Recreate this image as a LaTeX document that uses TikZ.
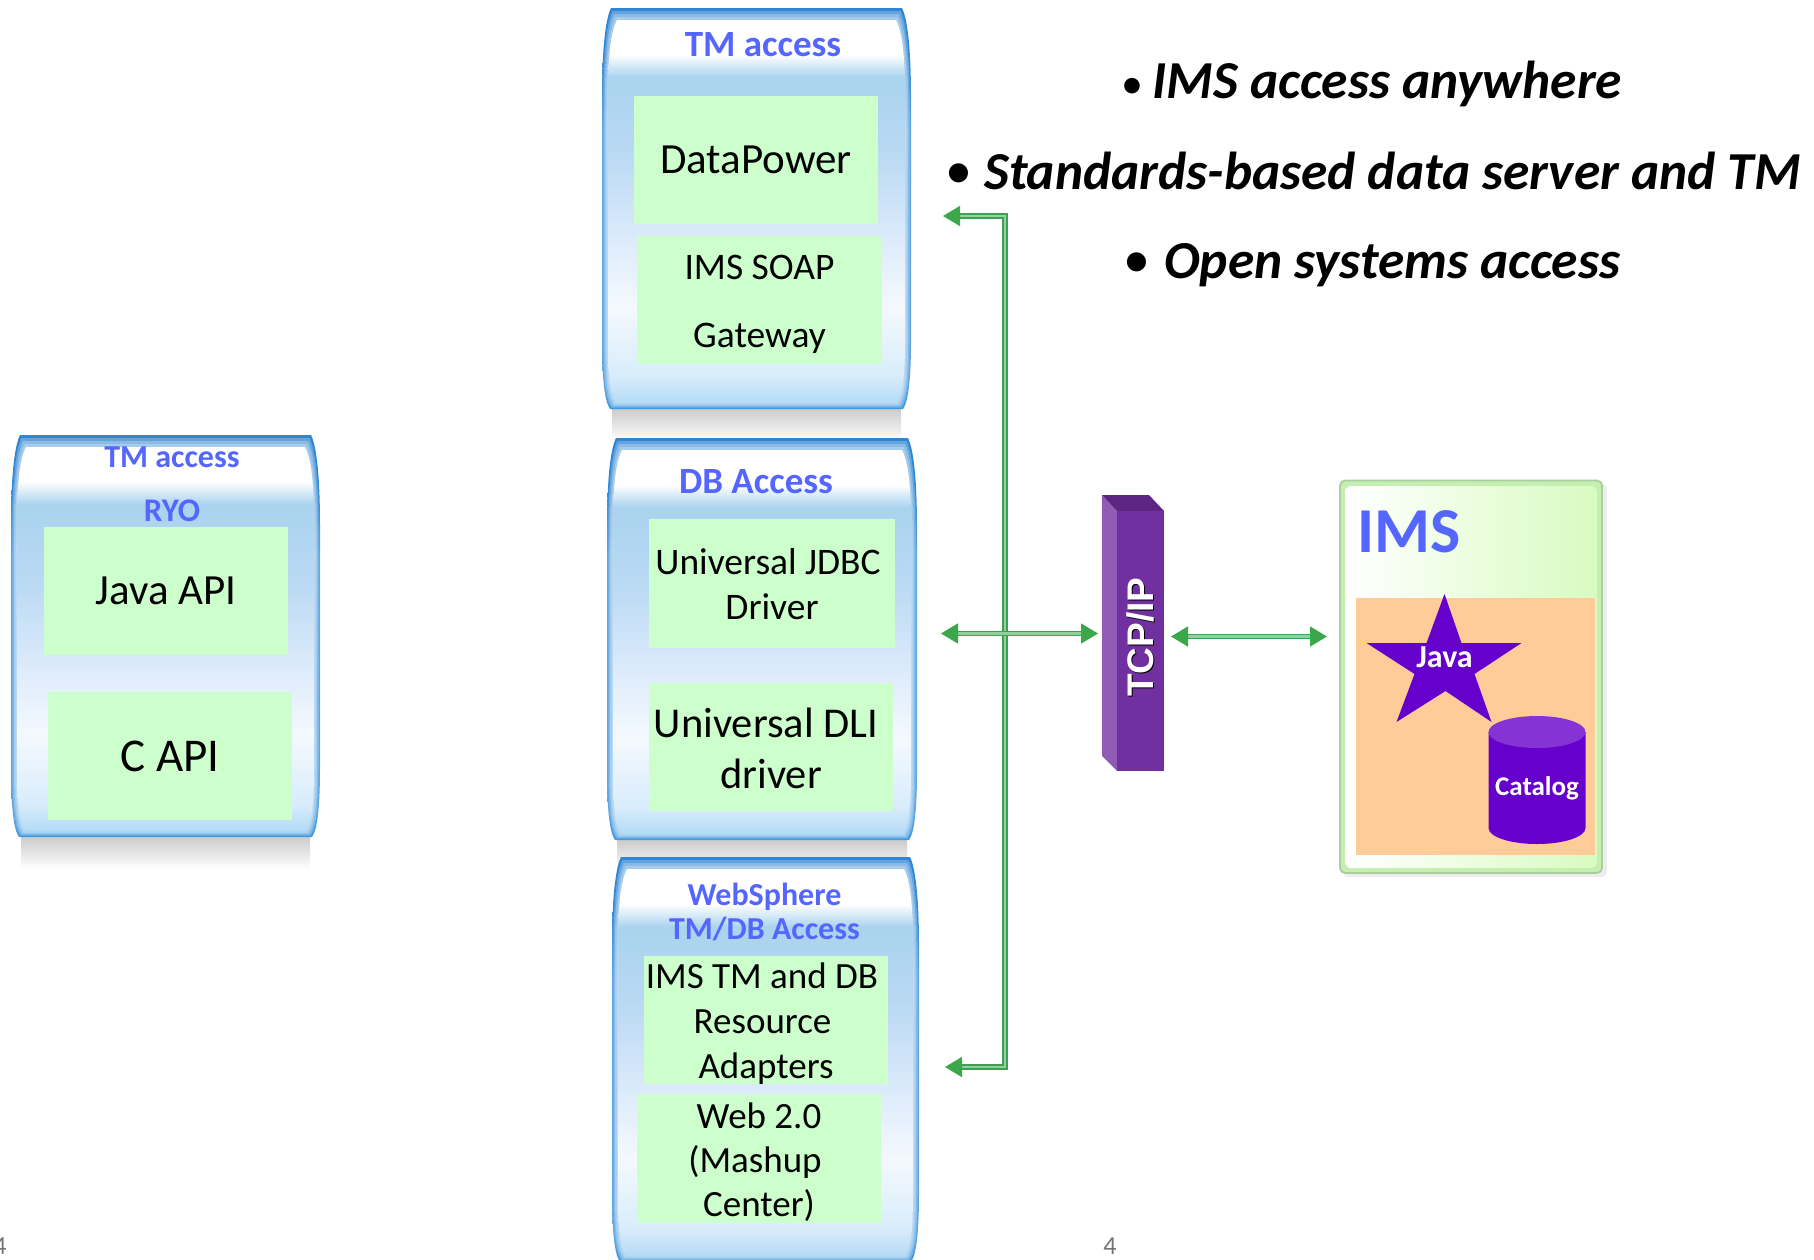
\documentclass[tikz,border=0pt]{standalone}
\usepackage{fontspec}
\setmainfont{Carlito}
\newfontfamily\arialfont{Liberation Sans}
\usetikzlibrary{arrows.meta}
\definecolor{glassA}{HTML}{FFFFFF}
\definecolor{glassB}{HTML}{A9D3EE}
\definecolor{glassC}{HTML}{BAD9F3}
\definecolor{glassD}{HTML}{E0EDFC}
\definecolor{glassE}{HTML}{F4F9FE}
\definecolor{glassF}{HTML}{D8ECFB}
\definecolor{glassG}{HTML}{B4DBF6}
\definecolor{edgeA}{HTML}{2F86D2}
\definecolor{edgeB}{HTML}{5FA6E2}
\definecolor{edgeC}{HTML}{3F98DE}
\definecolor{headblue}{HTML}{5566FF}
\definecolor{leaf}{HTML}{CCFFCC}
\definecolor{peach}{HTML}{FFCC99}
\definecolor{royal}{HTML}{6600CC}
\definecolor{royaltop}{HTML}{8533D4}
\definecolor{pipeout}{HTML}{3F9F55}
\definecolor{pipein}{HTML}{8FD29C}
\definecolor{tip}{HTML}{3AA84A}
\definecolor{imsedge}{HTML}{A9CFA0}
\definecolor{imsglow}{HTML}{C4EFB0}
\definecolor{imsfill}{HTML}{D8FBC0}
\pgfdeclareverticalshading{glass}{100bp}{
  color(0bp)=(glassG); color(25bp)=(glassG); color(28.5bp)=(glassF); color(37.5bp)=(glassE); color(45bp)=(glassD);
  color(57.5bp)=(glassC); color(67.5bp)=(glassB); color(70.5bp)=(glassA); color(100bp)=(glassA)}
\pgfdeclareverticalshading{glassedge}{100bp}{
  color(0bp)=(edgeC); color(25bp)=(edgeC); color(28bp)=(edgeB); color(60bp)=(edgeB); color(70bp)=(edgeA); color(100bp)=(edgeA)}
\newcommand{\glasspath}[5]{%
  ({#1+9+#5},{#2+#5*2}) -- ({#3-9-#5},{#2+#5*2})
  .. controls ({#3-3-#5},{#2+12+#5*2}) and ({#3-#5},{#2+45}) .. ({#3-#5},{#2+90})
  -- ({#3-#5},{#4-70})
  .. controls ({#3-#5},{#4-35}) and ({#3-2-#5},{#4-8-#5}) .. ({#3-8-#5},{#4-#5})
  -- ({#1+8+#5},{#4-#5})
  .. controls ({#1+2+#5},{#4-8-#5}) and ({#1+#5},{#4-35}) .. ({#1+#5},{#4-70})
  -- ({#1+#5},{#2+90})
  .. controls ({#1+#5},{#2+45}) and ({#1+3+#5},{#2+12+#5*2}) .. cycle}
\newcommand{\glassbox}[4]{%
  \shade[top color=black!20,bottom color=white] ({#1+10},#4) rectangle ({#3-10},{#4+32});
  \shade[shading=glassedge] \glasspath{#1}{#2}{#3}{#4}{0};
  \fill[white,opacity=.25] \glasspath{#1}{#2}{#3}{#4}{1.5};
  \fill[white,opacity=.25] \glasspath{#1}{#2}{#3}{#4}{3};
  \fill[white,opacity=.25] \glasspath{#1}{#2}{#3}{#4}{4.5};
  \shade[shading=glass] \glasspath{#1}{#2}{#3}{#4}{6};
}
\tikzset{
  sz/.style 2 args={font=\fontsize{#1}{#2}\selectfont},
  greenbox/.style={fill=leaf,inner sep=0pt,align=center,text=black},
  boxtext/.style={inner sep=0pt,align=center,text=black},
  header/.style={text=headblue,align=center,inner sep=0pt},
  pipe/.style={draw=pipeout,line width=1.6pt,double=pipein,double distance=2.6pt,
    {Triangle[length=17pt,width=20pt,color=tip]}-{Triangle[length=17pt,width=20pt,color=tip]}},
  bullettext/.style={inner sep=0pt,anchor=west,font=\fontsize{53.4}{60}\selectfont\bfseries\itshape},
  bulletdot/.style={inner sep=0pt},
  pagenum/.style={text=black!55,inner sep=0pt,font=\fontsize{26}{30}\selectfont},
  whitelabel/.style={text=white,inner sep=0pt},
}
\begin{document}
\begin{tikzpicture}[x=1pt,y=-1pt]
\useasboundingbox (0,0) rectangle (1814,1259);
\clip (0,0) rectangle (1814,1259);
% left box
\glassbox{11}{435}{320}{837}
\node[header,font=\fontsize{32}{36}\selectfont\bfseries] (lefttm) at (172,457.5) {TM access};
\node[header,font=\fontsize{33}{36}\selectfont\bfseries] (ryo) at (172,510.5) {RYO};
\node[greenbox,minimum width=244,minimum height=128,sz={43}{46}] (javaapi) at (166,591) {Java API};
\node[greenbox,minimum width=244,minimum height=128,sz={47}{50}] (capi) at (170,756) {C API};
% TM box
\glassbox{602}{8}{911}{409}
\node[header,font=\fontsize{37}{40}\selectfont\bfseries] (toptm) at (763,45) {TM access};
\node[greenbox,minimum width=244,minimum height=128,sz={43}{46}] (datapower) at (756,159.5) {DataPower};
\node[greenbox,minimum width=245,minimum height=128] (soap) at (759.5,300) {};
\node[boxtext,sz={37.5}{68}] (soaptext) at (759.5,304.5) {IMS SOAP\\Gateway};
% DB box
\glassbox{607}{438}{917}{840}
\node[header,font=\fontsize{37}{40}\selectfont\bfseries] (dbaccess) at (756,482) {DB Access};
\node[greenbox,minimum width=246,minimum height=129] (jdbc) at (772,583) {};
\node[boxtext,sz={37.5}{45}] (jdbctext) at (772,584) {Universal JDBC\hspace*{8pt}\\Driver};
\node[greenbox,minimum width=244,minimum height=128] (dli) at (770.5,747) {};
\node[boxtext,sz={42.5}{51}] (dlitext) at (771,748) {Universal DLI\hspace*{10pt}\\driver};
% WebSphere box
\glassbox{612}{857}{919}{1262}
\node[header,font=\fontsize{32}{34}\selectfont\bfseries] (websphere) at (764.5,912) {WebSphere\\TM/DB Access};
\node[greenbox,minimum width=244,minimum height=128] (adapters) at (766,1020) {};
\node[boxtext,sz={37}{45}] (adapterstext) at (766,1024) {IMS TM and DB\hspace*{8pt}\\Resource\kern7pt\\Adapters};
\node[greenbox,minimum width=244,minimum height=129] (webtwo) at (759,1158.5) {};
\node[boxtext,sz={37}{44}] (webtext) at (759,1162.5) {Web 2.0\\(Mashup\kern8pt\\Center)};
% connectors
\coordinate (tipa) at (943,216);
\coordinate (bustop) at (1005,216);
\coordinate (busbot) at (1005,1067);
\coordinate (tipc) at (945,1067);
\coordinate (midl) at (941,633.5);
\coordinate (midr) at (1098,633.5);
\draw[pipe] (tipa) -- (bustop) -- (busbot) -- (tipc);
\draw[pipe] (midl) -- (midr);
% TCP/IP tower
\fill[fill={rgb,255:red,143;green,91;blue,181}] (1102,495) -- (1117,511) -- (1117,771) -- (1102,756) -- cycle;
\fill[fill={rgb,255:red,92;green,38;blue,130}] (1102,495) -- (1149,495) -- (1164,511) -- (1117,511) -- cycle;
\node[fill={rgb,255:red,112;green,48;blue,160},minimum width=47,minimum height=260,inner sep=0pt] (tower) at (1140.5,641) {};
\node[rotate=90,inner sep=0pt,text=black,font=\fontsize{37}{40}\selectfont\arialfont\bfseries] (tcpshadow) at (1141.5,638) {TCP/IP};
\node[rotate=90,inner sep=0pt,text=white,font=\fontsize{37}{40}\selectfont\arialfont\bfseries] (tcp) at (1140,637) {TCP/IP};
% IMS box
\fill[black!7,rounded corners=5] (1343,484) rectangle (1607,877);
\draw[fill=imsglow,draw=imsedge,line width=1.8,rounded corners=5] (1340,480.5) rectangle (1602,873);
\shade[left color=white,right color=imsfill,rounded corners=6] (1345,486) rectangle (1597,868);
\coordinate (imsleft) at (1327,636.5);
\coordinate (tcpright) at (1171,636.5);
\draw[pipe] (tcpright) -- (imsleft);
\node[header,font=\fontsize{64}{66}\selectfont\bfseries] (ims) at (1409.5,532) {IMS};
\node[fill=peach,minimum width=239,minimum height=257,inner sep=0pt] (engine) at (1475,726) {};
\fill[royal] (1444.5,594) -- (1461.5,643) -- (1521.5,643) -- (1474.5,674) -- (1491.5,722) -- (1445.5,691) -- (1396.5,722) -- (1414.5,674) -- (1366.5,643) -- (1426.5,643) -- cycle;
\node[whitelabel,font=\fontsize{32}{34}\selectfont\bfseries] (java) at (1444.5,657) {Java};
\fill[royal] (1488.5,732) -- (1488.5,828) arc[start angle=180,end angle=360,x radius=48.5,y radius=-16] -- (1585.5,732) -- cycle;
\fill[royaltop] (1537,732) ellipse[x radius=48.5,y radius=16];
\node[whitelabel,font=\fontsize{27}{30}\selectfont\bfseries] (catalog) at (1537,788.5) {Catalog};
% bullets
\node[bulletdot,font=\fontsize{44}{48}\selectfont] (d1) at (1132,88) {•};
\node[bullettext] (b1) at (1152.5,84) {IMS access anywhere};
\node[bulletdot,font=\fontsize{54}{58}\selectfont] (d2) at (959,176) {•};
\node[bullettext] (b2) at (984,170.5) {Standards-based data server and TM};
\node[bulletdot,font=\fontsize{54}{58}\selectfont] (d3) at (1137,265) {•};
\node[bullettext] (b3) at (1164,265) {Open systems access};
% page numbers
\node[pagenum] (pageleft) at (0,1246) {4};
\node[pagenum] (pagemid) at (1110,1246) {4};
\end{tikzpicture}
\end{document}
